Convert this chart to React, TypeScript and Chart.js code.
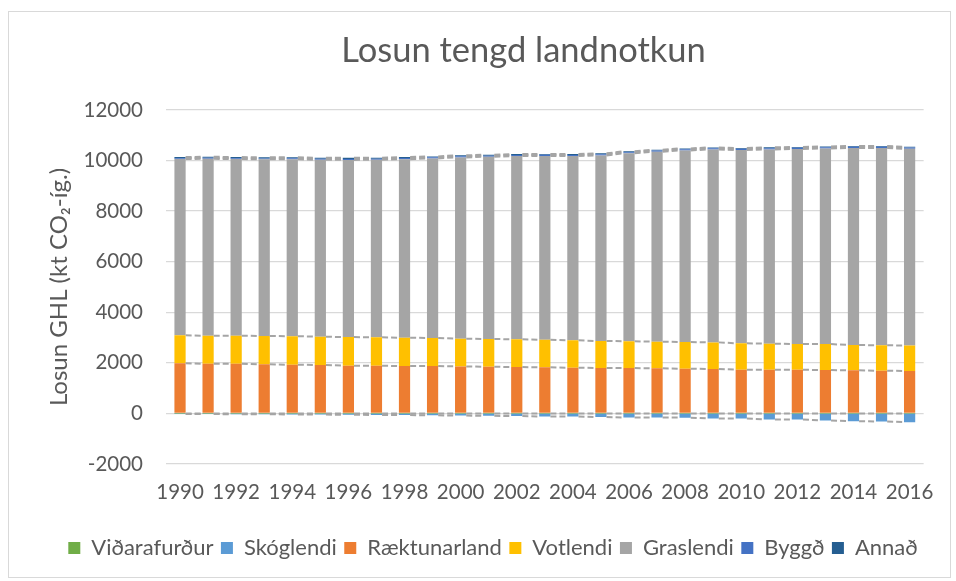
import React, { useEffect, useRef } from "react";
import { Chart, registerables } from "chart.js";

Chart.register(...registerables);

const years = [
  "1990", "1991", "1992", "1993", "1994", "1995", "1996", "1997", "1998",
  "1999", "2000", "2001", "2002", "2003", "2004", "2005", "2006", "2007",
  "2008", "2009", "2010", "2011", "2012", "2013", "2014", "2015", "2016",
];

const vidarafurdur = [
  -0.2, -0.3, -0.3, -0.2, -0.4, -0.3, -0.5, -0.4, -0.6, -0.5, -0.7, -0.8, -0.6,
  -0.9, -1.0, -1.1, -1.2, -1.4, -1.3, -1.0, -0.8, -0.9, -1.1, -1.2, -1.3, -1.5, -1.4,
];
const skoglendi = [
  -20, -25, -30, -33, -38, -45, -52, -58, -66, -74, -84, -93, -105, -119, -121,
  -145, -158, -160, -165, -198, -200, -236, -238, -277, -304, -317, -343,
];
const raektunarland = [
  1980, 1967, 1965, 1940, 1928, 1915, 1890, 1887, 1875, 1872, 1860, 1848, 1835,
  1822, 1808, 1796, 1794, 1782, 1769, 1756, 1732, 1730, 1728, 1716, 1703, 1690, 1677,
];
const votlendi = [
  1110, 1108, 1110, 1125, 1128, 1122, 1128, 1122, 1120, 1112, 1098, 1096, 1095,
  1094, 1083, 1070, 1060, 1056, 1055, 1054, 1042, 1030, 1020, 1025, 1006, 1004, 1012,
];
const graslendi = [
  6970, 6996, 6983, 6983, 6996, 6996, 7009, 7022, 7062, 7101, 7168, 7207, 7246,
  7267, 7286, 7339, 7431, 7511, 7577, 7629, 7643, 7682, 7709, 7735, 7788, 7801, 7775,
];
const byggd = [
  36, 37, 38, 38, 39, 40, 40, 41, 42, 42, 43, 44, 44, 45, 45, 46, 47, 47, 48, 48,
  49, 49, 50, 50, 51, 51, 52,
];
const annad = [
  44, 43, 42, 42, 41, 40, 40, 39, 38, 38, 37, 36, 36, 35, 35, 34, 33, 33, 32, 32,
  31, 31, 30, 30, 29, 29, 28,
];

const seriesNames = [
  "Viðarafurður", "Skóglendi", "Ræktunarland", "Votlendi", "Graslendi", "Byggð", "Annað",
];
const seriesColors = [
  "#70ad47", "#5b9bd5", "#ed7d31", "#ffc000", "#a5a5a5", "#4472c4", "#255e91",
];
const seriesValues = [vidarafurdur, skoglendi, raektunarland, votlendi, graslendi, byggd, annad];

const chartTitle = "Losun tengd landnotkun";
const yAxisTitle = "Losun GHL (kt CO\u2082-íg.)";
const yMin = -2000;
const yMax = 12000;
const yStep = 2000;

const FONT = "Lato, 'Open Sans', sans-serif";
const TEXT = "#595959";

const seriesLinesPlugin = {
  id: "seriesLines",
  afterDatasetsDraw(chart: any) {
    const ctx = chart.ctx;
    ctx.save();
    ctx.strokeStyle = "#a5a5a5";
    ctx.lineWidth = 2;
    ctx.setLineDash([6, 3]);
    chart.data.datasets.forEach((_ds: any, di: number) => {
      const meta = chart.getDatasetMeta(di);
      if (meta.hidden) return;
      const els = meta.data;
      for (let i = 0; i < els.length - 1; i++) {
        const a = els[i];
        const b = els[i + 1];
        ctx.beginPath();
        ctx.moveTo(a.x + a.width / 2, a.y);
        ctx.lineTo(b.x - b.width / 2, b.y);
        ctx.stroke();
      }
    });
    ctx.restore();
  },
};

const titlePlugin = {
  id: "customTitle",
  afterDraw(chart: any) {
    const ctx = chart.ctx;
    ctx.save();
    ctx.font = `34.5px ${FONT}`;
    ctx.fillStyle = TEXT;
    ctx.textAlign = "center";
    ctx.textBaseline = "alphabetic";
    ctx.fillText(chartTitle, 514.5, 50);
    ctx.restore();
  },
};

export default function App() {
  const canvasRef = useRef<HTMLCanvasElement | null>(null);

  useEffect(() => {
    if (!canvasRef.current) return;
    const chart = new Chart(canvasRef.current, {
      type: "bar",
      data: {
        labels: years,
        datasets: seriesNames.map((name, i) => ({
          label: name,
          data: seriesValues[i],
          backgroundColor: seriesColors[i],
          borderWidth: 0,
          stack: "s",
          barPercentage: 0.4,
          categoryPercentage: 1,
        })),
      },
      options: {
        responsive: false,
        animation: false,
        devicePixelRatio: 1,
        layout: { padding: { top: 98, left: 44, right: 17, bottom: 8 } },
        plugins: {
          title: { display: false },
          tooltip: { enabled: false },
          legend: {
            display: true,
            position: "bottom",
            labels: {
              boxWidth: 12,
              boxHeight: 12,
              padding: 7.5,
              color: TEXT,
              font: { family: FONT, size: 22 },
            },
          },
        },
        scales: {
          x: {
            stacked: true,
            grid: { display: false, drawTicks: false },
            border: { display: false },
            ticks: {
              autoSkip: false,
              maxRotation: 0,
              minRotation: 0,
              padding: 16.3,
              color: TEXT,
              font: { family: FONT, size: 20.5 },
              callback: (_v: any, i: number) => (i % 2 === 0 ? years[i] : ""),
            },
            afterFit: (s: any) => {
              s.height = 65.5;
            },
          },
          y: {
            stacked: true,
            min: yMin,
            max: yMax,
            grid: { color: "#d9d9d9", lineWidth: 1.3, drawTicks: false },
            border: { display: false },
            ticks: {
              stepSize: yStep,
              padding: 23,
              color: TEXT,
              font: { family: FONT, size: 20.5 },
              callback: (v: any) => String(v),
            },
            title: {
              display: true,
              text: yAxisTitle,
              color: TEXT,
              font: { family: FONT, size: 24 },
              padding: { top: -8, bottom: 0 },
            },
            afterFit: (s: any) => {
              s.width = 113;
            },
          },
        },
      },
      plugins: [seriesLinesPlugin, titlePlugin],
    });
    return () => chart.destroy();
  }, []);

  return (
    <div
      style={{
        position: "absolute",
        left: 8,
        top: 11,
        width: 943,
        height: 567,
        border: "1px solid #d9d9d9",
        boxSizing: "border-box",
        background: "#ffffff",
      }}
    >
      <canvas ref={canvasRef} width={941} height={565} style={{ display: "block" }} />
    </div>
  );
}
